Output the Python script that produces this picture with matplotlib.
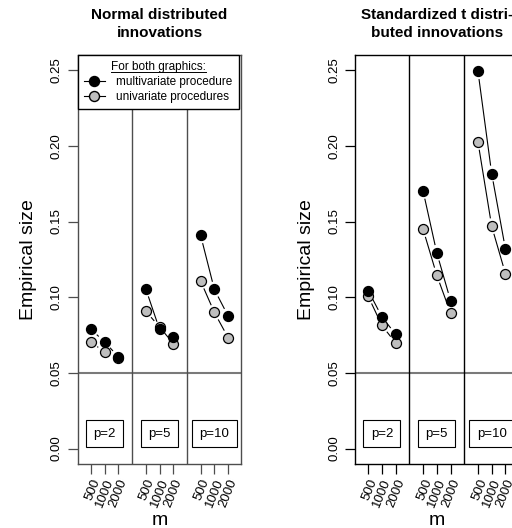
# Empirical size: normal vs t innovations

import numpy as np
import matplotlib
matplotlib.use('Agg')
import matplotlib.pyplot as plt
from matplotlib.lines import Line2D

plt.rcParams['font.family'] = ['Liberation Sans', 'DejaVu Sans']

# Dados
m_labels = ['500', '1000', '2000']
p_labels = ['p=2', 'p=5', 'p=10']
x_pos = [[1, 2, 3], [5, 6, 7], [9, 10, 11]]
p_centers = [2, 6, 10]
dividers = [4, 8]

normal_multi = [[0.0788, 0.0705, 0.0606], [0.1055, 0.0788, 0.0738], [0.1408, 0.1051, 0.0876]]
normal_uni = [[0.0705, 0.0637, 0.0600], [0.0907, 0.0804, 0.0694], [0.1106, 0.0899, 0.0733]]
t_multi = [[0.1044, 0.0870, 0.0755], [0.1702, 0.1293, 0.0978], [0.2493, 0.1817, 0.1319]]
t_uni = [[0.1006, 0.0813, 0.0698], [0.1449, 0.1145, 0.0896], [0.2026, 0.1469, 0.1156]]

titles = ['Normal distributed\ninnovations', 'Standardized t distri-\nbuted innovations']
nominal = 0.05

cinza = '#bebebe'
W, H = 512, 528
fig = plt.figure(figsize=(W / 100, H / 100), dpi=100)


def linha_b(ax, xs, ys, gap=8.5, **kw):
    # linhas com espacos em volta dos pontos (tipo "b" do R)
    pts = ax.transData.transform(np.column_stack([xs, ys]))
    inv = ax.transData.inverted()
    for a, b in zip(pts[:-1], pts[1:]):
        d = b - a
        L = np.hypot(d[0], d[1])
        if L <= 2 * gap:
            continue
        u = d / L
        seg = inv.transform(np.array([a + u * gap, b - u * gap]))
        ax.plot(seg[:, 0], seg[:, 1], **kw)


def painel(left_px, multi, uni, title, frame_col, legenda=False):
    ax = fig.add_axes([left_px / W, (H - 463.7) / H, 163 / W, 408.7 / H])
    ax.set_xlim(0.06, 11.94)
    ax.set_ylim(-0.01, 0.26)
    for s in ax.spines.values():
        s.set_color(frame_col)
        s.set_linewidth(1.0)

    ax.axhline(nominal, color='#7a7a7a', lw=1.5, zorder=1)
    for d in dividers:
        ax.axvline(d, color=frame_col, lw=1.0, zorder=1)

    for xs, ym, yu in zip(x_pos, multi, uni):
        linha_b(ax, xs, yu, color='black', lw=0.8, zorder=2)
        linha_b(ax, xs, ym, color='black', lw=0.8, zorder=2)
        ax.plot(xs, yu, 'o', ms=7.2, mfc=cinza, mec='black', mew=0.9, zorder=3)
        ax.plot(xs, ym, 'o', ms=7.2, mfc='black', mec='black', mew=0.9, zorder=4)

    for xc, lab in zip(p_centers, p_labels):
        ax.text(xc, 0.0098, lab, ha='center', va='center', fontsize=9.5, zorder=5,
                bbox=dict(boxstyle='square,pad=0.55', fc='white', ec='black', lw=0.8))

    ax.set_yticks(np.arange(0, 0.251, 0.05))
    ax.set_yticklabels(['%.2f' % v for v in np.arange(0, 0.251, 0.05)])
    ax.tick_params(axis='y', labelrotation=90, length=7, width=0.9, pad=4,
                   labelsize=9.5, color=frame_col)
    for t in ax.get_yticklabels():
        t.set_va('center')

    xs_all = [x for g in x_pos for x in g]
    ax.set_xticks(xs_all)
    ax.set_xticklabels(m_labels * 3, rotation=68, ha='right', va='top',
                       rotation_mode='anchor')
    ax.tick_params(axis='x', length=7, width=0.9, pad=3, labelsize=9.5, color=frame_col)

    ax.set_xlabel('m', fontsize=14, labelpad=2)
    ax.set_ylabel('Empirical size', fontsize=14)
    ax.yaxis.set_label_coords(-0.25, 0.5)
    ax.set_title(title, fontsize=11, fontweight='bold', pad=13, linespacing=1.4)

    if legenda:
        hs = [Line2D([], [], color='black', lw=0.8, marker='o', ms=7.2, mfc='black', mec='black'),
              Line2D([], [], color='black', lw=0.8, marker='o', ms=7.2, mfc=cinza, mec='black')]
        leg = ax.legend(hs, ['multivariate procedure', 'univariate procedures'],
                        title='For both graphics:', loc='upper left', fontsize=8.5,
                        title_fontsize=8.5, fancybox=False, framealpha=1,
                        edgecolor='black', borderaxespad=0, borderpad=0.5,
                        handlelength=1.75, handletextpad=1.0, labelspacing=0.25)
        leg.get_frame().set_linewidth(1.0)
        leg.set_zorder(10)
        fig.canvas.draw()
        bb = leg.get_title().get_window_extent()
        fig.add_artist(Line2D([bb.x0 / W, bb.x1 / W], [(bb.y0 + 1) / H] * 2,
                              color='black', lw=0.7))
    return ax


painel(78, normal_multi, normal_uni, titles[0], '#4d4d4d', legenda=True)
painel(355.3, t_multi, t_uni, titles[1], 'black')

fig.savefig('out.png', dpi=100)
